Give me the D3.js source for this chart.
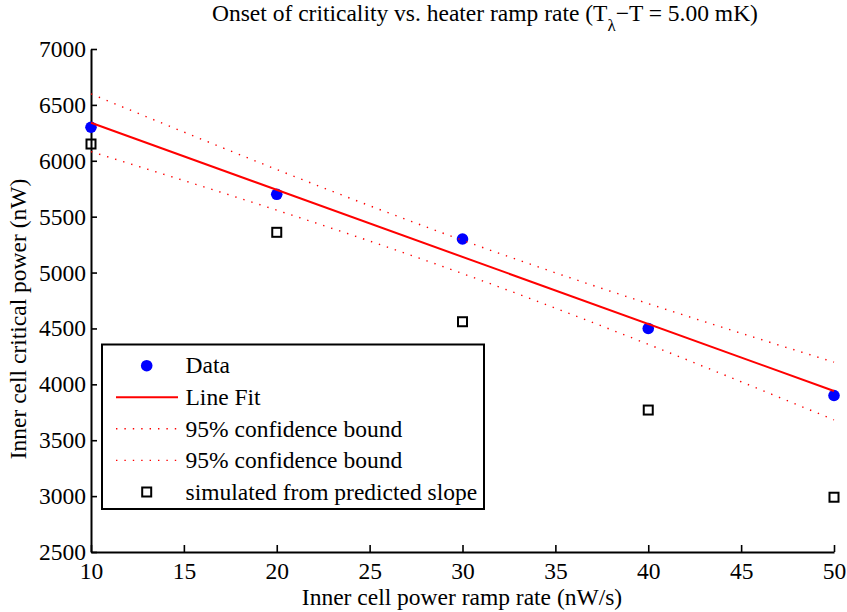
<!DOCTYPE html>
<html>
<head>
<meta charset="utf-8">
<script src="https://cdn.jsdelivr.net/npm/d3@7"></script>
<style>
  html, body { margin: 0; padding: 0; background: #fff; }
  svg { display: block; }
</style>
</head>
<body>
<svg id="chart" width="847" height="612"></svg>
<script>
// ---- data ----
const rampRates = [10, 20, 30, 40, 50];                 // nW/s
const measuredPower = [6300, 5700, 5300, 4500, 3900];    // nW (Data)
const simulatedPower = [6150, 5360, 4560, 3770, 2990];   // nW (simulated from predicted slope)
const fitX = [10, 50];
const fitPower = [6340, 3940];                           // Line Fit
const boundX = [10, 15, 20, 25, 30, 35, 40, 45, 50];
const upperBound = [6598, 6257, 5922, 5598, 5289, 4998, 4722, 4457, 4198];
const lowerBound = [6082, 5823, 5558, 5282, 4991, 4682, 4358, 4023, 3682];
const xTicks = [10, 15, 20, 25, 30, 35, 40, 45, 50];
const yTicks = [2500, 3000, 3500, 4000, 4500, 5000, 5500, 6000, 6500, 7000];
const legendLabels = ["Data", "Line Fit", "95% confidence bound", "95% confidence bound", "simulated from predicted slope"];

const FS = 23.5;
function serif(sel) {
  return sel.attr("font-family", "Liberation Serif").style("font-family", "'Liberation Serif'")
    .attr("font-size", FS).style("font-size", FS + "px");
}

const svg = d3.select("#chart");
const x = d3.scaleLinear().domain([10, 50]).range([91, 834]);
const y = d3.scaleLinear().domain([2500, 7000]).range([552, 49]);

// axes
const xAxis = svg.append("g").attr("transform", "translate(0,552)")
  .call(d3.axisBottom(x).tickValues(xTicks).tickSize(-7).tickSizeOuter(0).tickPadding(10).tickFormat(d3.format("d")));
const yAxis = svg.append("g").attr("transform", "translate(91,0)")
  .call(d3.axisLeft(y).tickValues(yTicks).tickSize(-6).tickSizeOuter(0).tickPadding(5).tickFormat(d3.format("d")));
[xAxis, yAxis].forEach(g => {
  g.attr("font-family", "Liberation Serif").attr("font-size", FS);
  g.select(".domain").attr("stroke", "#000").attr("stroke-width", 2);
  g.selectAll(".tick line").attr("stroke", "#000").attr("stroke-width", 1.6);
  serif(g.selectAll(".tick text")).attr("fill", "#000");
});

// data circles
svg.append("g").selectAll("circle").data(rampRates).join("circle")
  .attr("cx", d => x(d)).attr("cy", (d, i) => y(measuredPower[i]))
  .attr("r", 5.8).attr("fill", "#0000ff");

// fit line
const line = d3.line().x(d => x(d[0])).y(d => y(d[1]));
svg.append("path").datum(fitX.map((d, i) => [d, fitPower[i]]))
  .attr("d", line).attr("fill", "none").attr("stroke", "#ff0000").attr("stroke-width", 2);

// confidence bounds
const curve = d3.line().x(d => x(d[0])).y(d => y(d[1])).curve(d3.curveMonotoneX);
[upperBound, lowerBound].forEach(b => {
  svg.append("path").datum(boundX.map((d, i) => [d, b[i]]))
    .attr("d", curve).attr("fill", "none").attr("stroke", "#ff0000")
    .attr("stroke-width", 1.4).attr("stroke-dasharray", "1.4 7");
});

// simulated squares
svg.append("g").selectAll("rect").data(rampRates).join("rect")
  .attr("x", d => x(d) - 4.5).attr("y", (d, i) => y(simulatedPower[i]) - 4.5)
  .attr("width", 9).attr("height", 9)
  .attr("fill", "none").attr("stroke", "#000").attr("stroke-width", 2);

// legend
const lg = svg.append("g");
lg.append("rect").attr("x", 102).attr("y", 344.5).attr("width", 382).attr("height", 164.5)
  .attr("fill", "#fff").attr("stroke", "#000").attr("stroke-width", 2);
const rowY = [365.7, 397.2, 428.8, 460.4, 492];
legendLabels.forEach((t, i) => {
  const ry = rowY[i];
  if (i === 0) {
    lg.append("circle").attr("cx", 146.7).attr("cy", ry).attr("r", 5.8).attr("fill", "#0000ff");
  } else if (i === 1) {
    lg.append("line").attr("x1", 116).attr("x2", 178).attr("y1", ry).attr("y2", ry)
      .attr("stroke", "#ff0000").attr("stroke-width", 2);
  } else if (i === 2 || i === 3) {
    lg.append("line").attr("x1", 116).attr("x2", 178).attr("y1", ry).attr("y2", ry)
      .attr("stroke", "#ff0000").attr("stroke-width", 1.4).attr("stroke-dasharray", "1.4 7");
  } else {
    lg.append("rect").attr("x", 146.7 - 4.5).attr("y", ry - 4.5).attr("width", 9).attr("height", 9)
      .attr("fill", "none").attr("stroke", "#000").attr("stroke-width", 2);
  }
  serif(lg.append("text")).attr("x", 185.5).attr("y", ry).attr("dy", "0.33em").text(t);
});

// axis labels
serif(svg.append("text")).attr("x", 462).attr("y", 605).attr("text-anchor", "middle")
  .text("Inner cell power ramp rate (nW/s)");
serif(svg.append("text")).attr("transform", "translate(26,319) rotate(-90)").attr("text-anchor", "middle")
  .text("Inner cell critical power (nW)");

// title
const title = serif(svg.append("text")).attr("x", 212).attr("y", 21);
title.append("tspan").text("Onset of criticality vs. heater ramp rate (T");
title.append("tspan").attr("font-size", 17).style("font-size", "17px").attr("dy", 10).text("λ");
title.append("tspan").attr("dy", -10).text("−T = 5.00 mK)");
</script>
</body>
</html>
